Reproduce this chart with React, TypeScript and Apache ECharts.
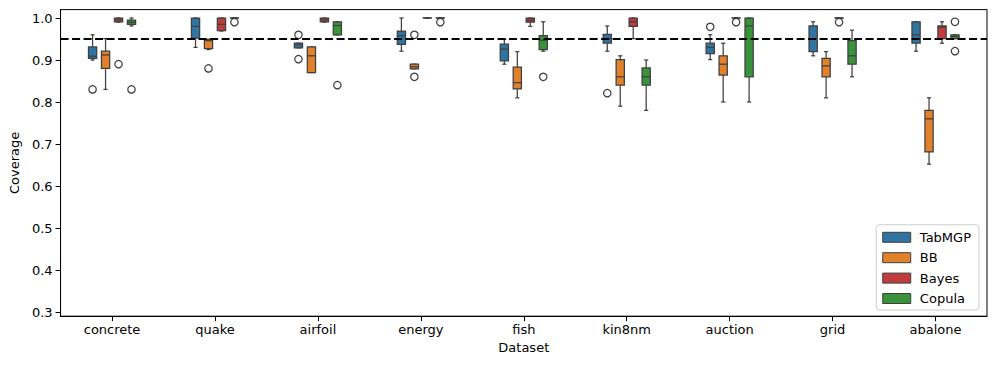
import React, { useEffect, useRef } from "react";
import * as echarts from "echarts";

// ---- data ----
const categories = ["concrete", "quake", "airfoil", "energy", "fish", "kin8nm", "auction", "grid", "abalone"];
const seriesNames = ["TabMGP", "BB", "Bayes", "Copula"];
const yTicks = [0.3, 0.4, 0.5, 0.6, 0.7, 0.8, 0.9, 1.0];
const targetCoverage = 0.95;

// [min, q1, median, q3, max] per dataset
const tabmgpStats = [
  [0.900, 0.904, 0.909, 0.931, 0.960],
  [0.930, 0.952, 0.980, 1.000, 1.000],
  [0.929, 0.929, 0.936, 0.940, 0.940],
  [0.921, 0.937, 0.958, 0.969, 1.000],
  [0.890, 0.898, 0.926, 0.938, 0.949],
  [0.921, 0.940, 0.951, 0.961, 0.981],
  [0.901, 0.915, 0.930, 0.940, 0.960],
  [0.910, 0.920, 0.951, 0.981, 0.991],
  [0.921, 0.940, 0.960, 0.991, 0.991],
];
const bbStats = [
  [0.830, 0.880, 0.912, 0.921, 0.951],
  [0.925, 0.927, 0.946, 0.949, 0.949],
  [0.870, 0.870, 0.910, 0.931, 0.931],
  [0.879, 0.879, 0.884, 0.890, 0.890],
  [0.810, 0.831, 0.846, 0.883, 0.920],
  [0.790, 0.840, 0.860, 0.901, 0.910],
  [0.800, 0.864, 0.890, 0.910, 0.940],
  [0.810, 0.860, 0.886, 0.904, 0.920],
  [0.652, 0.681, 0.760, 0.780, 0.810],
];
const bayesStats = [
  [0.990, 0.991, 0.995, 1.000, 1.000],
  [0.969, 0.970, 0.985, 1.000, 1.000],
  [0.990, 0.991, 0.995, 1.000, 1.000],
  [1.000, 1.000, 1.000, 1.000, 1.000],
  [0.980, 0.990, 0.995, 1.000, 1.000],
  [0.951, 0.980, 0.991, 1.000, 1.000],
  [1.000, 1.000, 1.000, 1.000, 1.000],
  [1.000, 1.000, 1.000, 1.000, 1.000],
  [0.940, 0.951, 0.978, 0.981, 0.991],
];
const copulaStats = [
  [0.981, 0.985, 0.990, 0.995, 1.000],
  [1.000, 1.000, 1.000, 1.000, 1.000],
  [0.960, 0.960, 0.982, 0.991, 0.991],
  [1.000, 1.000, 1.000, 1.000, 1.000],
  [0.921, 0.925, 0.947, 0.958, 0.991],
  [0.780, 0.840, 0.860, 0.881, 0.900],
  [0.800, 0.860, 0.981, 1.000, 1.000],
  [0.860, 0.890, 0.910, 0.946, 0.971],
  [0.951, 0.951, 0.956, 0.960, 0.960],
];

// outliers: [datasetIndex, value]
const tabmgpOutliers = [[0, 0.830], [2, 0.960], [2, 0.902], [5, 0.821], [6, 0.979]];
const bbOutliers = [[1, 0.880], [3, 0.960], [3, 0.860]];
const bayesOutliers = [[0, 0.890], [6, 0.990], [7, 0.990]];
const copulaOutliers = [[0, 0.830], [1, 0.990], [2, 0.840], [3, 0.990], [4, 0.860], [8, 0.991], [8, 0.921]];

// ---- style ----
const COLORS = ["#3274a1", "#e1812c", "#c03d3e", "#3a923a"];
const EDGE = "#3f3f3f";
const LW = 1.25;
const HUE_OFFSETS = [-0.189, -0.063, 0.063, 0.189];
const BOX_WIDTH = 0.08;
const FONT = "DejaVu Sans";

const allStats = [tabmgpStats, bbStats, bayesStats, copulaStats];
const allOutliers = [tabmgpOutliers, bbOutliers, bayesOutliers, copulaOutliers];

function boxRenderer(hue: number) {
  return (_params: any, api: any) => {
    const cat = api.value(0);
    const band = api.size([1, 0])[0];
    const cx = api.coord([cat, 0])[0] + HUE_OFFSETS[hue] * band;
    const half = (BOX_WIDTH * band) / 2;
    const capHalf = half / 2;
    const py = (v: number) => api.coord([cat, v])[1];
    const pMin = py(api.value(1));
    const pQ1 = py(api.value(2));
    const pMed = py(api.value(3));
    const pQ3 = py(api.value(4));
    const pMax = py(api.value(5));
    const ls = { stroke: EDGE, lineWidth: LW };
    return {
      type: "group",
      children: [
        { type: "line", shape: { x1: cx, y1: pQ3, x2: cx, y2: pMax }, style: ls },
        { type: "line", shape: { x1: cx, y1: pQ1, x2: cx, y2: pMin }, style: ls },
        { type: "line", shape: { x1: cx - capHalf, y1: pMax, x2: cx + capHalf, y2: pMax }, style: ls },
        { type: "line", shape: { x1: cx - capHalf, y1: pMin, x2: cx + capHalf, y2: pMin }, style: ls },
        {
          type: "rect",
          shape: { x: cx - half, y: pQ3, width: 2 * half, height: Math.max(pQ1 - pQ3, 0.01) },
          style: { fill: COLORS[hue], stroke: EDGE, lineWidth: LW },
        },
        { type: "line", shape: { x1: cx - half, y1: pMed, x2: cx + half, y2: pMed }, style: ls },
      ],
    };
  };
}

function outlierRenderer(_params: any, api: any) {
  const cat = api.value(0);
  const hue = api.value(1);
  const band = api.size([1, 0])[0];
  const p = api.coord([cat, api.value(2)]);
  return {
    type: "circle",
    shape: { cx: p[0] + HUE_OFFSETS[hue] * band, cy: p[1], r: 3.7 },
    style: { fill: "none", stroke: EDGE, lineWidth: LW },
  };
}

export default function App() {
  const ref = useRef<HTMLDivElement>(null);

  useEffect(() => {
    document.body.style.margin = "0";
    if (!ref.current) return;
    const chart = echarts.init(ref.current, undefined, { renderer: "svg" });

    const boxSeries = seriesNames.map((name, hue) => ({
      name,
      type: "custom",
      renderItem: boxRenderer(hue),
      itemStyle: { color: COLORS[hue] },
      encode: { x: 0, y: [1, 2, 3, 4, 5] },
      data: allStats[hue].map((s, i) => [i, ...s]),
      z: 2,
    }));

    const outlierData: number[][] = [];
    allOutliers.forEach((list, hue) => list.forEach(([cat, v]) => outlierData.push([cat, hue, v])));

    const option: any = {
      animation: false,
      textStyle: { fontFamily: FONT },
      grid: { left: 60, right: 9, top: 9.6, bottom: 51.8, show: true, borderColor: "#000", borderWidth: 1, backgroundColor: "transparent" },
      xAxis: {
        type: "category",
        data: categories,
        name: "Dataset",
        nameLocation: "middle",
        nameGap: 25,
        nameTextStyle: { fontSize: 13, color: "#000", fontFamily: FONT },
        axisLine: { show: true, lineStyle: { color: "#000", width: 1 } },
        axisTick: { show: true, alignWithLabel: true, length: 5, lineStyle: { color: "#000" } },
        axisLabel: { fontSize: 13, color: "#000", margin: 7, fontFamily: FONT },
        splitLine: { show: false },
      },
      yAxis: {
        type: "value",
        min: 0.29,
        max: 1.02,
        name: "Coverage",
        nameLocation: "middle",
        nameGap: 38,
        nameRotate: 90,
        nameTextStyle: { fontSize: 13, color: "#000", fontFamily: FONT },
        axisLine: { show: true, lineStyle: { color: "#000", width: 1 } },
        axisTick: { show: true, length: 5, customValues: yTicks, lineStyle: { color: "#000" } },
        axisLabel: {
          fontSize: 13,
          color: "#000",
          margin: 8,
          fontFamily: FONT,
          customValues: yTicks,
          formatter: (v: number) => v.toFixed(1),
        },
        splitLine: { show: false },
      },
      legend: {
        orient: "vertical",
        right: 17,
        bottom: 58,
        itemWidth: 28,
        itemHeight: 10,
        itemGap: 7.4,
        padding: [6, 8, 5, 6],
        borderColor: "#cccccc",
        borderWidth: 1,
        borderRadius: 3,
        backgroundColor: "rgba(255,255,255,0.8)",
        icon: "rect",
        formatter: (n: string) => " " + n,
        textStyle: { fontSize: 13, color: "#000", fontFamily: FONT },
        data: seriesNames.map((name, hue) => ({
          name,
          itemStyle: { color: COLORS[hue], borderColor: EDGE, borderWidth: 1 },
        })),
      },
      series: [
        ...boxSeries,
        {
          name: "outliers",
          type: "custom",
          renderItem: outlierRenderer,
          encode: { x: 0, y: 2 },
          data: outlierData,
          z: 3,
          markLine: {
            silent: true,
            symbol: "none",
            label: { show: false },
            lineStyle: { color: "#000", type: [8, 3.5], width: 1.8 },
            data: [{ yAxis: targetCoverage }],
            z: 10,
          },
        },
      ],
    };
    chart.setOption(option);
    return () => chart.dispose();
  }, []);

  return <div ref={ref} style={{ width: 996, height: 368, position: "absolute", left: 0, top: 0 }} />;
}
